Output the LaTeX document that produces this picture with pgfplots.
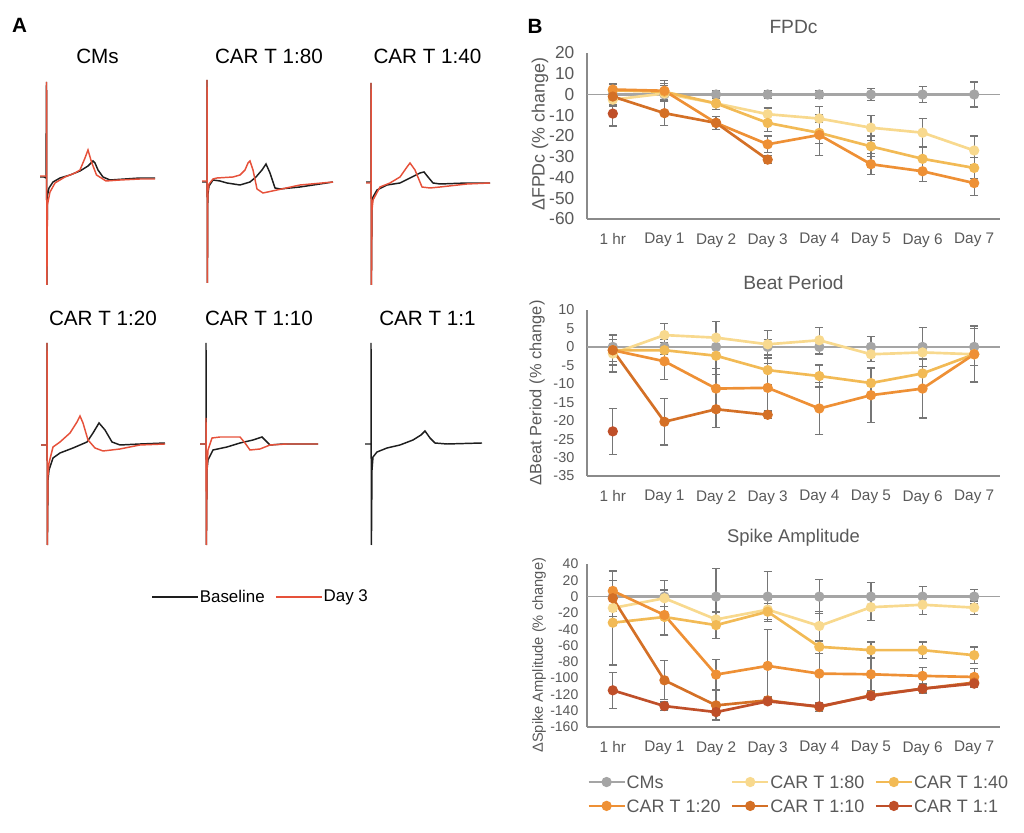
\documentclass[border=0pt]{standalone}
\usepackage{fontspec}
\setmainfont{Liberation Sans}
\usepackage{pgfplots}
\pgfplotsset{compat=1.18}
\definecolor{cmsg}{HTML}{A5A5A5}
\definecolor{c80}{HTML}{F8D98E}
\definecolor{c40}{HTML}{F2BA55}
\definecolor{c20}{HTML}{EE9035}
\definecolor{c10}{HTML}{D47026}
\definecolor{c1}{HTML}{BF4F29}
\definecolor{errgray}{HTML}{767676}
\definecolor{axgray}{HTML}{8A8A8A}
\definecolor{zerogray}{HTML}{A0A0A0}
\definecolor{txtgray}{HTML}{595959}
\definecolor{tred}{HTML}{E6513A}
\definecolor{tblack}{HTML}{1E1E1E}
\pgfplotsset{
 bstyle/.style={
  scale only axis, width=309.75pt,
  xmin=-0.5, xmax=7.5, xtick={0,...,7},
  xticklabels={1 hr,Day 1,Day 2,Day 3,Day 4,Day 5,Day 6,Day 7},
  axis lines*=left, axis line style={-, draw=axgray, line width=1.1pt},
  major tick length=0pt,
  tick label style={text=txtgray},
  /pgf/number format/assume math mode=true,
  xticklabel style={yshift=-7.3pt, font=\fontsize{11.5}{13}\selectfont},
  title style={text=txtgray, at={(axis description cs:0.5,1)}, anchor=center},
  extra y ticks={0}, extra y tick labels={},
  extra y tick style={grid=major, major grid style={draw=zerogray, line width=1.1pt}},
  clip=false,
  every axis plot/.append style={line width=2pt, mark=*, mark size=2.8pt, mark options={solid}},
 },
 ylab/.style n args={3}{every axis y label/.style={at={(axis description cs:#1,#2)}, rotate=90, anchor=center, font=\fontsize{#3}{14}\selectfont, text=txtgray}},
 eb/.style={error bars/.cd, y dir=both, y explicit,
  error bar style={line width=0.9pt, draw=errgray},
  error mark options={line width=0.9pt, draw=errgray, mark size=3pt, rotate=90}},
}
\begin{document}
\begin{tikzpicture}
\useasboundingbox (0,0) rectangle (768pt,624pt);
% ---------------- Panel A ----------------
\begin{axis}[at={(0,0)}, anchor=south west, scale only axis,
  width=768pt, height=624pt, xmin=0, xmax=1024, ymin=-832, ymax=0,
  hide axis, clip=false,
  legend columns=2,
  legend style={at={(axis cs:151,-597)}, anchor=west, draw=none, fill=none,
    inner sep=0pt, font=\fontsize{12.7}{15}\selectfont,
    nodes={inner sep=0.8pt},
    /tikz/every even column/.append style={column sep=7pt}},
  legend cell align=left,
  legend image code/.code={\draw[#1] (0pt,0pt) -- (34.5pt,0pt);},
  every axis plot/.append style={line width=1.1pt, no marks}]
% CMs
\addplot[tblack] coordinates {(40,-177) (44,-177) (46,-178) (46.5,-82) (46.9,-285) (47.4,-196) (49,-188) (53,-182) (60,-178) (70,-175) (80,-171) (88,-166) (93,-161) (95,-163) (98,-170) (103,-177) (110,-180) (125,-179) (140,-178) (155,-178)};
\addlegendentry{Baseline}
\addplot[tred] coordinates {(40,-176) (45,-176) (46.5,-176) (46.5,-82) (46.9,-285) (47.4,-205) (50,-192) (55,-183) (65,-177) (75,-173) (80,-170) (85,-158) (88,-150) (91.5,-162) (96.5,-175) (106,-181) (120,-180) (140,-179) (155,-179)};
\addlegendentry{Day 3}
% 1:80
\addplot[tblack, forget plot] coordinates {(202,-182) (206,-182) (207,-182) (207,-80) (207.4,-283) (207.8,-195) (209,-186) (213,-180) (220,-181) (227,-183) (240,-185) (250,-182) (256,-177) (262,-170) (266,-164) (270,-173) (275,-188) (280,-189) (300,-187) (320,-184) (333,-182)};
\addplot[tred, forget plot] coordinates {(202,-181) (206,-181) (207,-181) (207,-80) (207.4,-283) (207.8,-192) (209,-184) (213,-179) (217,-178) (233,-177) (240,-175) (245,-170) (248,-163) (250,-161) (253,-170) (257,-189) (263,-193) (277,-190) (300,-185) (333,-182)};
% 1:40
\addplot[tblack, forget plot] coordinates {(366,-182) (370,-182) (371,-182) (371,-83) (371.4,-285) (372,-205) (373,-197) (377,-190) (387,-185) (400,-183) (410,-178) (420,-173) (424,-172) (428,-177) (433,-183) (440,-184) (467,-183) (490,-183)};
\addplot[tred, forget plot] coordinates {(366,-183) (370,-183) (371,-183) (371,-83) (371.4,-285) (372,-210) (373,-200) (380,-187) (390,-183) (400,-177) (407,-167) (410,-163) (415,-170) (422,-187) (430,-188) (440,-187) (467,-184) (490,-183)};
% 1:20
\addplot[tblack, forget plot] coordinates {(41,-445) (46,-445) (47,-445) (47,-343) (47.4,-545) (48,-480) (49,-470) (53,-458) (60,-453) (73,-448) (87,-442) (93,-433) (99,-423) (105,-430) (112,-442) (120,-445) (140,-444) (165,-443)};
\addplot[tred, forget plot] coordinates {(41,-445) (46,-445) (47,-445) (47,-343) (47.4,-545) (48,-475) (49,-463) (53,-447) (60,-442) (70,-433) (77,-422) (80,-416) (83,-423) (88,-440) (95,-448) (103,-451) (120,-449) (140,-445) (165,-444)};
% 1:10
\addplot[tblack, forget plot] coordinates {(200,-444) (205,-444) (206,-444) (206,-343) (206.4,-545) (207,-470) (208,-460) (213,-450) (227,-447) (240,-443) (253,-440) (262,-437) (267,-442) (270,-445) (283,-444) (318,-444)};
\addplot[tred, forget plot] coordinates {(200,-444) (205,-444) (206,-444) (206,-418) (206.4,-545) (207,-470) (208,-450) (212,-438) (220,-437) (233,-437) (240,-437) (245,-443) (250,-450) (260,-449) (270,-445) (287,-444) (318,-444)};
% 1:1
\addplot[tblack, forget plot] coordinates {(365,-444) (370,-444) (371,-444) (371,-343) (371.4,-545) (372,-470) (373,-457) (377,-452) (387,-448) (400,-445) (413,-440) (421,-435) (425,-431) (430,-438) (435,-443) (447,-444) (482,-443)};
% titles
\node[font=\fontsize{15.5}{18}\selectfont\bfseries] at (axis cs:19.5,-25.5) {A};
\node[font=\fontsize{15.5}{18}\selectfont\bfseries] at (axis cs:535,-26) {B};
\begin{scope}[every node/.style={font=\fontsize{15.5}{18}\selectfont}]
\node at (axis cs:97.5,-56) {CMs};
\node at (axis cs:269,-56) {CAR T 1:80};
\node at (axis cs:427.5,-56) {CAR T 1:40};
\node at (axis cs:103,-318) {CAR T 1:20};
\node at (axis cs:259,-318) {CAR T 1:10};
\node at (axis cs:427.5,-318) {CAR T 1:1};
\end{scope}
\end{axis}
% ---------------- FPDc ----------------
\begin{axis}[bstyle, at={(440.25pt,459.75pt)}, anchor=south west, height=124.5pt,
  ymin=-60, ymax=20, ytick={-60,-50,...,20},
  yticklabel style={xshift=-6pt, font=\fontsize{13}{15}\selectfont},
  title={FPDc}, title style={yshift=13.2pt, font=\fontsize{14.4}{16}\selectfont},
  ylab={-0.114}{0.51}{13.4},
  ylabel={ΔFPDc (\% change)}]
\addplot[cmsg, eb] coordinates {(0,0)+-(0,3) (1,0)+-(0,3) (2,0)+-(0,2) (3,0)+-(0,2) (4,0)+-(0,2) (5,0)+-(0,3) (6,0)+-(0,4) (7,0)+-(0,6)};
\addplot[c80, eb] coordinates {(0,-2.5)+-(0,3) (1,0.5)+-(0,4) (2,-4.3)+-(0,3) (3,-9.5)+-(0,3) (4,-11.6)+-(0,6) (5,-16)+-(0,6) (6,-18.4)+-(0,7) (7,-27)+-(0,7)};
\addplot[c40, eb] coordinates {(0,2)+-(0,3) (1,1.3)+-(0,4) (2,-4.3)+-(0,3) (3,-13.7)+-(0,4) (4,-18.5)+-(0,5) (5,-25)+-(0,5) (6,-31)+-(0,6) (7,-35.4)+-(0,5)};
\addplot[c20, eb] coordinates {(0,2.4)+-(0,3) (1,1.8)+-(0,5) (2,-13.7)+-(0,3) (3,-24)+-(0,4) (4,-19.5)+-(0,10) (5,-33.6)+-(0,5) (6,-37)+-(0,5) (7,-42.7)+-(0,6)};
\addplot[c10, eb] coordinates {(0,-1)+-(0,4) (1,-9)+-(0,6) (2,-13.7)+-(0,3) (3,-31.4)+-(0,2)};
\addplot[c1, eb] coordinates {(0,-9.2)+-(0,6)};
\end{axis}
% ---------------- Beat Period ----------------
\begin{axis}[bstyle, at={(440.25pt,267pt)}, anchor=south west, height=124.5pt,
  ymin=-35, ymax=10, ytick={-35,-30,...,10},
  yticklabel style={xshift=-6pt, font=\fontsize{10.8}{13}\selectfont},
  title={Beat Period}, title style={yshift=14.7pt, font=\fontsize{14.4}{16}\selectfont},
  ylab={-0.121}{0.5}{12.3},
  ylabel={ΔBeat Period (\% change)}]
\addplot[cmsg, eb] coordinates {(0,0)+-(0,2) (1,0)+-(0,2) (2,0)+-(0,2) (3,0)+-(0,2) (4,0)+-(0,2) (5,0)+-(0,2.9) (6,0)+-(0,5.3) (7,0)+-(0,5)};
\addplot[c80, eb] coordinates {(0,-1.8)+-(0,5) (1,3.2)+-(0,3.1) (2,2.5)+-(0,4.3) (3,0.7)+-(0,3.7) (4,1.8)+-(0,3.5) (5,-2)+-(0,2) (6,-1.5)+-(0,2) (7,-2)+-(0,7.5)};
\addplot[c40, eb] coordinates {(0,-0.9)+-(0,4) (1,-0.9)+-(0,3) (2,-2.4)+-(0,5) (3,-6.3)+-(0,4) (4,-7.9)+-(0,3) (5,-9.8)+-(0,4) (6,-7.2)+-(0,4) (7,-2)+-(0,7.5)};
\addplot[c20, eb] coordinates {(0,-0.9)+-(0,4) (1,-3.9)+-(0,5) (2,-11.3)+-(0,5.5) (3,-11.1)+-(0,6.5) (4,-16.7)+-(0,7) (5,-13.1)+-(0,7.5) (6,-11.3)+-(0,8) (7,-2)+-(0,7.7)};
\addplot[c10, eb] coordinates {(0,-0.9)+-(0,3) (1,-20.3)+-(0,6.3) (2,-16.9)+-(0,5) (3,-18.4)+-(0,1)};
\addplot[c1, eb] coordinates {(0,-22.9)+-(0,6.2)};
\end{axis}
% ---------------- Spike Amplitude ----------------
\begin{axis}[bstyle, at={(440.25pt,78.75pt)}, anchor=south west, height=122.25pt,
  ymin=-160, ymax=40, ytick={-160,-140,...,40},
  yticklabel style={xshift=-3pt, font=\fontsize{10.5}{12}\selectfont},
  title={Spike Amplitude}, title style={yshift=13.8pt, font=\fontsize{13.8}{16}\selectfont},
  ylab={-0.116}{0.44}{11},
  ylabel={ΔSpike Amplitude (\% change)},
  legend columns=3,
  legend style={at={(axis description cs:0,-0.2914)}, anchor=north west, draw=none, fill=none,
    inner sep=0pt, font=\fontsize{13.5}{16}\selectfont, text=txtgray,
    nodes={inner sep=0.6pt, text height=9.7pt, text depth=0pt},
    row sep=7pt,
    /tikz/every even column/.append style={column sep=7pt}},
  legend cell align=left,
  legend image code/.code={\draw[mark repeat=2,mark phase=2,#1] plot coordinates {(0pt,0pt) (13.5pt,0pt) (27pt,0pt)};}]
\addplot[cmsg, eb] coordinates {(0,0)+-(0,32) (1,0)+-(0,20) (2,0)+-(0,34) (3,0)+-(0,31) (4,0)+-(0,21) (5,0)+-(0,17) (6,0)+-(0,12) (7,0)+-(0,9)};
\addlegendentry{CMs}
\addplot[c80, eb] coordinates {(0,-14)+-(0,10) (1,-2)+-(0,10) (2,-28)+-(0,10) (3,-16)+-(0,12) (4,-36)+-(0,18) (5,-13)+-(0,16) (6,-10)+-(0,12) (7,-13.5)+-(0,8)};
\addlegendentry{CAR T 1:80}
\addplot[c40, eb] coordinates {(0,-32)+-(0,52) (1,-25)+-(0,22) (2,-35)+-(0,16) (3,-18.5)+-(0,10) (4,-61.6)+-(0,8) (5,-65.7)+-(0,10) (6,-65.7)+-(0,10) (7,-71.9)+-(0,10)};
\addlegendentry{CAR T 1:40}
\addplot[c20, eb] coordinates {(0,7)+-(0,25) (1,-22.6)+-(0,25) (2,-95.7)+-(0,19) (3,-85)+-(0,45) (4,-94.5)+-(0,40) (5,-95.3)+-(0,20) (6,-97.3)+-(0,10) (7,-98.6)+-(0,10)};
\addlegendentry{CAR T 1:20}
\addplot[c10, eb] coordinates {(0,-2)+-(0,33) (1,-102.7)+-(0,24) (2,-133.5)+-(0,18) (3,-127.3)+-(0,5) (4,-135.5)+-(0,5) (5,-121)+-(0,5) (6,-113)+-(0,6) (7,-105.5)+-(0,4)};
\addlegendentry{CAR T 1:10}
\addplot[c1, eb] coordinates {(0,-115)+-(0,22) (1,-134.3)+-(0,5) (2,-141.7)+-(0,10) (3,-128.5)+-(0,4) (4,-134.7)+-(0,4) (5,-122)+-(0,4) (6,-113)+-(0,5) (7,-106.8)+-(0,4)};
\addlegendentry{CAR T 1:1}
\end{axis}
\end{tikzpicture}
\end{document}
